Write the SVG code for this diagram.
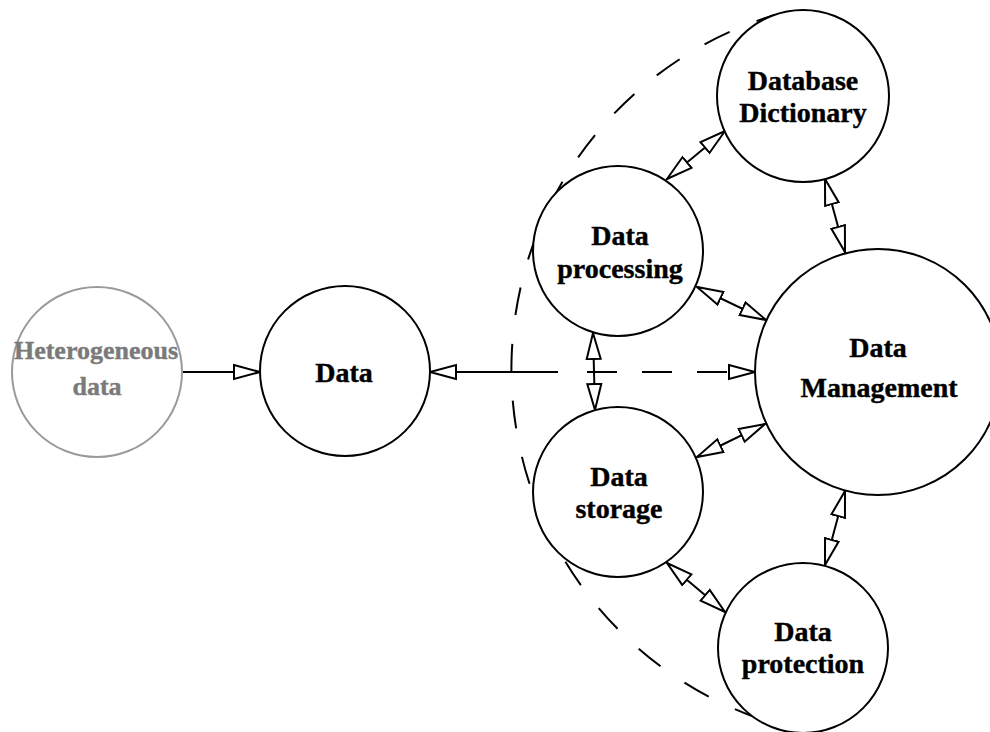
<svg xmlns="http://www.w3.org/2000/svg" width="990" height="732" viewBox="0 0 990 732">
  <style>
    .node { fill: #ffffff; stroke: #000000; stroke-width: 2; }
    .node.faded { stroke: #9a9a9a; }
    .label { font-family: "Liberation Serif", "Times New Roman", serif; font-weight: bold; font-size: 28px; fill: #000000; stroke: #000000; stroke-width: 0.4; text-anchor: middle; }
    .label.faded { fill: #7a7a7a; stroke: #7a7a7a; font-size: 26px; }
    .link { fill: none; stroke: #000000; stroke-width: 2; }
    .dashed { stroke-dasharray: 30 25; }
    .boundary { fill: none; stroke: #000000; stroke-width: 2; stroke-dasharray: 28 29; stroke-dashoffset: 8.5; }
  </style>
  <defs>
    <marker id="head" markerUnits="userSpaceOnUse" markerWidth="32" markerHeight="20" refX="27" refY="9" orient="auto-start-reverse">
      <path d="M1,2 L27,9 L1,16 Z" fill="#ffffff" stroke="#000000" stroke-width="2" stroke-linejoin="miter"/>
    </marker>
  </defs>

  <rect width="990" height="732" fill="#ffffff"/>

  <!-- dashed boundary around the management subsystem -->
  <path class="boundary" d="M775,15 A370,370 0 0 0 752,716"/>

  <g id="connectors">
    <line class="link" x1="183" y1="372" x2="260" y2="372" marker-end="url(#head)"/>
    <line class="link" x1="558" y1="372" x2="430" y2="372" marker-end="url(#head)"/>
    <line class="link dashed" x1="587" y1="372" x2="755" y2="372" marker-end="url(#head)"/>
    <line class="link" x1="593" y1="333" x2="595" y2="410" marker-start="url(#head)" marker-end="url(#head)"/>
    <line class="link" x1="667" y1="179" x2="725" y2="131" marker-start="url(#head)" marker-end="url(#head)"/>
    <line class="link" x1="825" y1="179" x2="845" y2="252" marker-start="url(#head)" marker-end="url(#head)"/>
    <line class="link" x1="697" y1="287" x2="766" y2="320" marker-start="url(#head)" marker-end="url(#head)"/>
    <line class="link" x1="697" y1="457" x2="765" y2="424" marker-start="url(#head)" marker-end="url(#head)"/>
    <line class="link" x1="845" y1="491" x2="825" y2="565" marker-start="url(#head)" marker-end="url(#head)"/>
    <line class="link" x1="667" y1="563" x2="725" y2="612" marker-start="url(#head)" marker-end="url(#head)"/>
  </g>

  <g id="heterogeneous-data">
    <circle class="node faded" cx="97" cy="372" r="85"/>
    <text class="label faded" x="96" y="359">Heterogeneous</text>
    <text class="label faded" x="97" y="395">data</text>
  </g>

  <g id="data">
    <circle class="node" cx="345" cy="371" r="85"/>
    <text class="label" x="344" y="382">Data</text>
  </g>

  <g id="data-processing">
    <circle class="node" cx="618" cy="251" r="85"/>
    <text class="label" x="620" y="245">Data</text>
    <text class="label" x="620" y="278">processing</text>
  </g>

  <g id="database-dictionary">
    <circle class="node" cx="803" cy="96" r="86"/>
    <text class="label" x="803" y="90">Database</text>
    <text class="label" x="803" y="122">Dictionary</text>
  </g>

  <g id="data-management">
    <circle class="node" cx="878" cy="372" r="123"/>
    <text class="label" x="878" y="357">Data</text>
    <text class="label" x="879" y="397">Management</text>
  </g>

  <g id="data-storage">
    <circle class="node" cx="618" cy="492" r="85"/>
    <text class="label" x="619" y="486">Data</text>
    <text class="label" x="619" y="518">storage</text>
  </g>

  <g id="data-protection">
    <circle class="node" cx="803" cy="648" r="85"/>
    <text class="label" x="803" y="641">Data</text>
    <text class="label" x="803" y="673">protection</text>
  </g>
</svg>
